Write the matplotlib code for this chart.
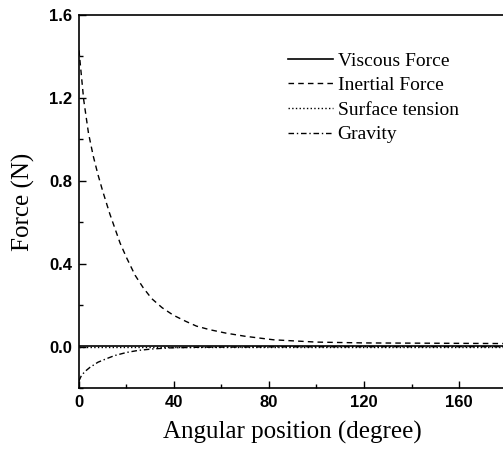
import matplotlib.pyplot as plt
from matplotlib.ticker import MultipleLocator

# data
angle_inertial = [0, 1, 2, 4, 6, 8, 10, 13, 17.3, 20, 23.6, 27, 30.6, 35,
                  39.7, 45, 49.5, 55, 62, 70, 82, 100, 120, 140, 160, 180]
inertial = [1.43, 1.31, 1.19, 1.03, 0.92, 0.83, 0.75, 0.64, 0.50, 0.43,
            0.345, 0.285, 0.232, 0.188, 0.152, 0.122, 0.099, 0.082, 0.065,
            0.05, 0.033, 0.022, 0.018, 0.017, 0.016, 0.015]

angle_gravity = [0, 1, 2.5, 4.6, 8, 11.6, 15, 20, 25, 31, 38, 50, 80, 120, 180]
gravity = [-0.165, -0.14, -0.12, -0.10, -0.075, -0.058, -0.043, -0.028,
           -0.018, -0.011, -0.006, -0.003, -0.001, 0.0, 0.0]

angle_flat = [0, 180]
viscous = [0.002, 0.002]
surface = [0.0, 0.0]

labels = ["Viscous Force", "Inertial Force", "Surface tension", "Gravity"]
xticks = [0, 40, 80, 120, 160]
yticks = [0.0, 0.4, 0.8, 1.2, 1.6]
ytick_labels = ["0.0", "0.4", "0.8", "1.2", "1.6"]

fig = plt.figure(figsize=(5.03, 4.55), dpi=100)
ax = fig.add_axes([0.157, 0.147, 0.850, 0.820])

ax.plot(angle_flat, viscous, 'k-', lw=1.2, label=labels[0])
ax.plot(angle_inertial, inertial, 'k--', lw=1.0, dashes=(4, 3), label=labels[1])
ax.plot(angle_flat, surface, 'k:', lw=1.0, label=labels[2])
ax.plot(angle_gravity, gravity, 'k-.', lw=1.0, dashes=(4, 2, 1, 2), label=labels[3])

ax.set_xlim(0, 180)
ax.set_ylim(-0.2, 1.6)
ax.set_xticks(xticks)
ax.set_yticks(yticks, ytick_labels)
ax.xaxis.set_minor_locator(MultipleLocator(20))
ax.yaxis.set_minor_locator(MultipleLocator(0.2))
ax.tick_params(which='both', direction='in', width=1, pad=5)
ax.tick_params(which='major', length=5)
ax.tick_params(which='minor', length=3)
for lab in ax.get_xticklabels() + ax.get_yticklabels():
    lab.set_fontfamily('Liberation Sans')
    lab.set_fontweight('bold')
    lab.set_fontsize(12)

ax.set_xlabel("Angular position (degree)", family='Liberation Serif', fontsize=18, labelpad=8)
ax.set_ylabel("Force (N)", family='Liberation Serif', fontsize=18, labelpad=10)

for s in ax.spines.values():
    s.set_linewidth(1.2)

ax.legend(loc='upper left', bbox_to_anchor=(0.489, 0.901), frameon=False,
          borderpad=0, borderaxespad=0,
          prop={'family': 'Liberation Serif', 'size': 14},
          handlelength=2.3, handletextpad=0.25, labelspacing=0.36)

fig.savefig("out.png", dpi=100)
